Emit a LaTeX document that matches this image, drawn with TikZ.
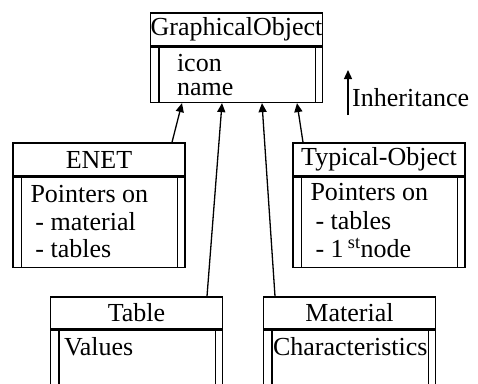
\documentclass[tikz,border=0pt]{standalone}
\usepackage{fontspec}
\setmainfont{Liberation Serif}
\usetikzlibrary{arrows.meta}

\tikzset{
  cls/.style={draw, line width=1.4pt, minimum width=172pt, inner sep=0pt, font=\fontsize{26}{28}\selectfont},
  head/.style={cls, minimum height=33pt},
  body/.style={cls, anchor=north},
  txt/.style={anchor=base west, align=left, inner sep=0pt, font=\fontsize{26}{27.5}\selectfont},
  inh/.style={-{Triangle[length=9pt,width=8pt]}, line width=1.3pt},
}

\begin{document}
\begin{tikzpicture}[x=1pt,y=-1pt]
        \path[use as bounding box, clip] (0,0) rectangle (478,383);

        % Draw class boxes
        \node[head] (gohead) at (236.5,29.5) {GraphicalObject};
        \node[body, minimum height=55pt] (gobody) at (gohead.south) {};
        \node[head] (enethead) at (99,159.5) {ENET};
        \node[body, minimum height=90pt] (enetbody) at (enethead.south) {};
        \node[head] (typhead) at (379,159.5) {Typical-Object};
        \node[body, minimum height=90pt] (typbody) at (typhead.south) {};
        \node[head, minimum height=32pt] (tabhead) at (136.5,313) {Table};
        \node[body, minimum height=70pt] (tabbody) at (tabhead.south) {};
        \node[head, minimum height=32pt] (mathead) at (349.5,313) {Material};
        \node[body, minimum height=70pt] (matbody) at (mathead.south) {};

        % Draw double side lines
        \foreach \b in {gobody, enetbody, typbody, tabbody, matbody} {
            \draw[line width=1.4pt] ([xshift=9pt]\b.north west) -- ([xshift=9pt]\b.south west);
            \draw[line width=1.4pt] ([xshift=-8pt]\b.north east) -- ([xshift=-8pt]\b.south east);
        }

        % Draw attributes (base = last line)
        \node[txt, font=\fontsize{26}{23.5}\selectfont] (gotext) at ([xshift=27pt,yshift=-48.5pt]gobody.north west) {icon\\name};
        \node[txt] (enettext) at ([xshift=18pt,yshift=-81pt]enetbody.north west) {Pointers on\\\hspace{5pt}- material\\\hspace{5pt}- tables};
        \node[txt, font=\fontsize{26}{28.5}\selectfont] (typtext) at ([xshift=18pt,yshift=-81pt]typbody.north west) {Pointers on\\\hspace{5pt}- tables\\\hspace{5pt}- 1\,\textsuperscript{st}node};
        \node[txt] (tabtext) at ([xshift=14pt,yshift=-26pt]tabbody.north west) {Values};
        \node[txt] (mattext) at ([xshift=10pt,yshift=-26pt]matbody.north west) {Characteristics};

        % Draw inheritance arrows
        \draw[inh] ([xshift=73pt]enethead.north) -- ([xshift=-54.5pt]gobody.south);
        \draw[inh] ([xshift=70.5pt]tabhead.north) -- ([xshift=-14.5pt]gobody.south);
        \draw[inh] ([xshift=-74.5pt]mathead.north) -- ([xshift=25.5pt]gobody.south);
        \draw[inh] ([xshift=-76pt]typhead.north) -- ([xshift=60.5pt]gobody.south);

        % Draw legend
        \coordinate (legfoot) at (348,115);
        \coordinate (leghead) at (348,70);
        \draw[inh] (legfoot) -- (leghead);
        \node[txt] (legend) at (352,106) {Inheritance};

\end{tikzpicture}
\end{document}
